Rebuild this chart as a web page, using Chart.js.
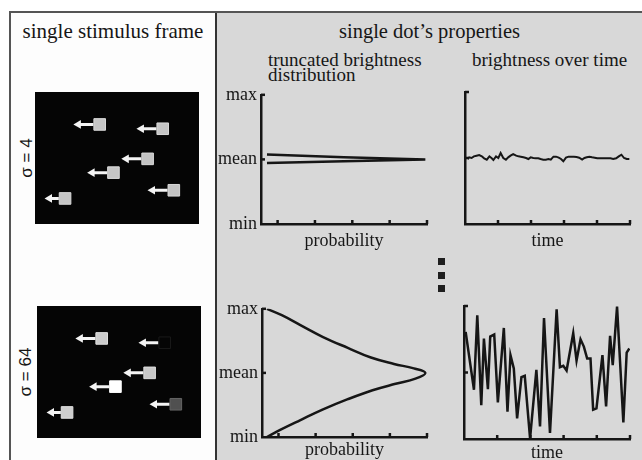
<!DOCTYPE html>
<html>
<head>
<meta charset="utf-8">
<script src="https://cdn.jsdelivr.net/npm/chart.js@4"></script>
<style>
  html, body { margin: 0; padding: 0; background: #fff; }
  body { width: 642px; height: 460px; position: relative; overflow: hidden;
         font-family: "Liberation Serif", serif; color: #161616; }
  #frame { position: absolute; left: 9px; top: 11px; width: 640px; height: 460px;
           border-left: 2px solid #555; border-top: 2px solid #555; background: #fdfdfd; }
  #props { position: absolute; left: 215px; top: 13px; width: 430px; height: 450px;
           background: #d8d8d8; border-left: 2px solid #333; }
  .t { position: absolute; white-space: nowrap; line-height: 1; }
  .sigma { position: absolute; font-family: "Liberation Sans", sans-serif; font-size: 17px;
           white-space: nowrap; transform: translate(-50%, -50%) rotate(-90deg); }
  .dot3 { position: absolute; left: 438px; width: 7px; height: 7px; background: #1e1e1e; }
  canvas { position: absolute; }
</style>
</head>
<body>
<div id="frame"></div>
<div id="props"></div>

<div class="t" style="left:11px;width:204px;top:21px;text-align:center;font-size:21px;">single stimulus frame</div>
<div class="t" style="left:217px;width:425px;top:21px;text-align:center;font-size:20.5px;">single dot’s properties</div>
<div class="t" style="left:268px;top:52px;font-size:19px;line-height:15px;">truncated brightness<br>distribution</div>
<div class="t" style="left:472px;top:52px;font-size:19px;line-height:15px;">brightness over time</div>

<div class="sigma" style="left:27px;top:158px;">σ = 4</div>
<div class="sigma" style="left:26px;top:372px;">σ = 64</div>

<div class="dot3" style="top:258px;"></div>
<div class="dot3" style="top:272px;"></div>
<div class="dot3" style="top:285px;"></div>

<canvas id="frameLow" width="164" height="132" style="left:35px;top:92px;background:#050505;"></canvas>
<canvas id="frameHigh" width="164" height="132" style="left:37px;top:306px;background:#050505;"></canvas>
<canvas id="distLow" width="240" height="174" style="left:200px;top:80px;"></canvas>
<canvas id="timeLow" width="202" height="174" style="left:440px;top:80px;"></canvas>
<canvas id="distHigh" width="240" height="180" style="left:200px;top:294px;"></canvas>
<canvas id="timeHigh" width="202" height="180" style="left:440px;top:294px;"></canvas>

<script>
Chart.defaults.font.family = '"Liberation Serif", serif';
Chart.defaults.font.size = 18;
Chart.defaults.color = '#161616';

const ink = '#161616';

// axes
const brightnessTicks = [-1, 0, 1];
const brightnessTickLabels = ['min', 'mean', 'max'];
const probTicks = [0.1, 0.325, 0.55, 0.775, 1];
const timeTicks = [1, 2, 3, 4, 5];

// truncated brightness distributions (probability, brightness)
const lowSigmaProb  = [0.036, 0.5, 0.99, 0.5, 0.036];
const lowSigmaLevel = [-0.055, -0.028, 0, 0.035, 0.075];

const highSigmaProb  = [0.03, 0.11, 0.23, 0.37, 0.52, 0.67, 0.81, 0.93, 0.99,
                        0.92, 0.80, 0.66, 0.52, 0.37, 0.23, 0.12, 0.03];
const highSigmaLevel = [-1.0, -0.89, -0.74, -0.57, -0.41, -0.27, -0.17, -0.09, 0,
                        0.07, 0.14, 0.24, 0.39, 0.56, 0.75, 0.90, 1.0];

// brightness over time
const lowSigmaTime = [0.08, 0.13, 0.20, 0.27, 0.35, 0.43, 0.51, 0.58, 0.66, 0.74, 0.81, 0.86, 0.94,
  1.01, 1.08, 1.16, 1.24, 1.31, 1.38, 1.46, 1.55, 1.62, 1.69, 1.77, 1.85, 1.92, 1.99,
  2.07, 2.15, 2.22, 2.29, 2.37, 2.45, 2.53, 2.60, 2.68, 2.76, 2.84, 2.91, 2.98,
  3.06, 3.14, 3.22, 3.30, 3.38, 3.46, 3.55, 3.62, 3.69, 3.77, 3.85, 3.93,
  4.01, 4.09, 4.17, 4.25, 4.33, 4.41, 4.49, 4.58, 4.66, 4.74, 4.82, 4.90, 4.98];
const lowSigmaTrace = [-0.015, 0.01, 0, 0.025, 0.035, 0.045, 0.025, -0.005, -0.025, 0.025, -0.005, -0.03, 0.025,
  0, 0.075, 0, -0.025, 0.01, 0.035, 0.06, 0.035, 0.025, 0.02, 0.01, 0, -0.015, 0.01,
  0, -0.005, -0.005, -0.015, -0.025, -0.025, -0.015, -0.025, 0.02, 0.02, 0.005, -0.015, -0.05,
  0.005, 0.02, 0.02, 0.02, 0.015, 0.005, -0.025, 0, 0.01, 0.02, 0.01, 0.005,
  -0.005, -0.005, -0.005, -0.005, -0.005, -0.005, -0.015, -0.005, 0.025, 0.05, 0, -0.015, -0.015];

const highSigmaTime = [0.05, 0.30, 0.40, 0.52, 0.60, 0.72, 0.79, 0.91, 1.02, 1.20, 1.31, 1.40,
  1.50, 1.60, 1.73, 1.83, 1.99, 2.18, 2.29, 2.41, 2.59, 2.79, 2.89, 2.99, 3.09,
  3.29, 3.39, 3.51, 3.61, 3.71, 3.81, 3.89, 3.99, 4.17, 4.28, 4.40, 4.48, 4.61,
  4.80, 4.90, 4.98];
const highSigmaTrace = [0.61, -0.26, 0.86, -0.49, 0.51, -0.25, 0.54, 0.57, -0.45, 0.67, -0.59, 0.26,
  0.06, -0.69, -0.07, -0.05, -0.99, 0.04, -0.81, 0.82, -0.91, 0.95, 0.08, 0.10, 0.03,
  0.59, 0.18, 0.50, 0.39, 0.21, 0.21, -0.56, -0.54, 0.26, -0.51, 0.55, 0.11, 0.99,
  -0.75, 0.30, 0.36];

// stimulus frame: dot centres and grey levels (0-255)
const dotX = [62.5, 133.5, 116.5, 78, 146, 23.5];
const dotY = [27, 32, 67, 83, 103.5, 113];
const lowSigmaGrey  = [198, 198, 196, 198, 196, 198];
const highSigmaGrey = [204, 5, 200, 255, 80, 206];

const pairs = (xs, ys) => xs.map((x, i) => ({ x, y: ys[i] }));

const innerTicks = {
  id: 'innerTicks',
  afterDraw(chart) {
    const { ctx, chartArea: a, scales } = chart;
    ctx.save();
    ctx.strokeStyle = ink;
    ctx.lineWidth = 2.5;
    scales.x.ticks.forEach(t => {
      const px = scales.x.getPixelForValue(t.value);
      ctx.beginPath(); ctx.moveTo(px, a.bottom); ctx.lineTo(px, a.bottom - 4); ctx.stroke();
    });
    scales.y.ticks.forEach(t => {
      if (t.value === scales.y.min) return;
      const py = scales.y.getPixelForValue(t.value);
      ctx.beginPath(); ctx.moveTo(a.left, py); ctx.lineTo(a.left + 4, py); ctx.stroke();
    });
    ctx.restore();
  }
};

function plot(id, points, opt) {
  new Chart(document.getElementById(id), {
    type: 'scatter',
    data: {
      datasets: [{
        data: points,
        showLine: true,
        borderColor: ink,
        borderWidth: opt.lineWidth,
        tension: opt.tension,
        pointRadius: 0
      }]
    },
    options: {
      responsive: false,
      animation: false,
      events: [],
      layout: { padding: { top: 12, right: opt.right, left: 0, bottom: 0 } },
      plugins: { legend: { display: false }, tooltip: { enabled: false } },
      scales: {
        x: {
          type: 'linear', min: 0, max: opt.xMax,
          afterBuildTicks: s => { s.ticks = opt.xTicks.map(value => ({ value })); },
          afterFit: s => { s.height = opt.xHeight; },
          ticks: { display: false },
          grid: { display: false },
          border: { display: true, color: ink, width: 2.5 },
          title: { display: true, text: opt.xTitle, color: ink,
                   font: { size: 18 }, padding: { top: 0, bottom: opt.titlePad } }
        },
        y: {
          type: 'linear', min: -1, max: 1,
          afterBuildTicks: s => { s.ticks = brightnessTicks.map(value => ({ value })); },
          afterFit: s => { s.width = opt.yWidth; },
          ticks: {
            display: opt.yLabels, padding: 4, color: ink, font: { size: 18 },
            callback: v => brightnessTickLabels[brightnessTicks.indexOf(v)]
          },
          grid: { display: false, drawTicks: false },
          border: { display: true, color: ink, width: 2.5 }
        }
      }
    },
    plugins: [innerTicks]
  });
}

plot('distLow', pairs(lowSigmaProb, lowSigmaLevel),
  { xMax: 1, xTicks: probTicks, xTitle: 'probability', yLabels: true, yWidth: 61, right: 13,
    xHeight: 30, titlePad: 2, lineWidth: 2.5, tension: 0 });
plot('timeLow', pairs(lowSigmaTime, lowSigmaTrace),
  { xMax: 5, xTicks: timeTicks, xTitle: 'time', yLabels: false, yWidth: 25, right: 12,
    xHeight: 30, titlePad: 2, lineWidth: 2, tension: 0 });
plot('distHigh', pairs(highSigmaProb, highSigmaLevel),
  { xMax: 1, xTicks: probTicks, xTitle: 'probability', yLabels: true, yWidth: 62, right: 13,
    xHeight: 37, titlePad: 13, lineWidth: 2.5, tension: 0.4 });
plot('timeHigh', pairs(highSigmaTime, highSigmaTrace),
  { xMax: 5, xTicks: timeTicks, xTitle: 'time', yLabels: false, yWidth: 24, right: 12,
    xHeight: 35, titlePad: 10, lineWidth: 2.5, tension: 0 });

// stimulus frames: squares with white motion arrows pointing left
function stimulus(id, greys) {
  const grey = g => `rgb(${g},${g},${g})`;
  const headX = x => Math.max(x - 24, 6);
  const shafts = dotX.map((x, i) => ({
    data: [{ x: x - 7, y: dotY[i] }, { x: headX(x), y: dotY[i] }],
    showLine: true, borderColor: '#f4f4f4', borderWidth: 3, pointRadius: 0
  }));
  new Chart(document.getElementById(id), {
    type: 'scatter',
    data: {
      datasets: [
        {
          data: pairs(dotX, dotY),
          pointStyle: 'rect',
          pointRadius: 8.2,
          pointBackgroundColor: greys.map(grey),
          pointBorderColor: greys.map(g => grey(Math.min(255, g + 20))),
          pointBorderWidth: 1
        },
        {
          data: dotX.map((x, i) => ({ x: headX(x), y: dotY[i] })),
          pointStyle: 'triangle',
          pointRotation: -90,
          pointRadius: 5,
          pointBackgroundColor: '#f4f4f4',
          pointBorderColor: '#f4f4f4',
          pointBorderWidth: 0
        },
        ...shafts
      ]
    },
    options: {
      responsive: false,
      animation: false,
      events: [],
      layout: { padding: 0 },
      plugins: { legend: { display: false }, tooltip: { enabled: false } },
      scales: {
        x: { type: 'linear', min: 0, max: 164, display: false },
        y: { type: 'linear', min: 0, max: 132, reverse: true, display: false }
      }
    }
  });
}

stimulus('frameLow', lowSigmaGrey);
stimulus('frameHigh', highSigmaGrey);
</script>
</body>
</html>
